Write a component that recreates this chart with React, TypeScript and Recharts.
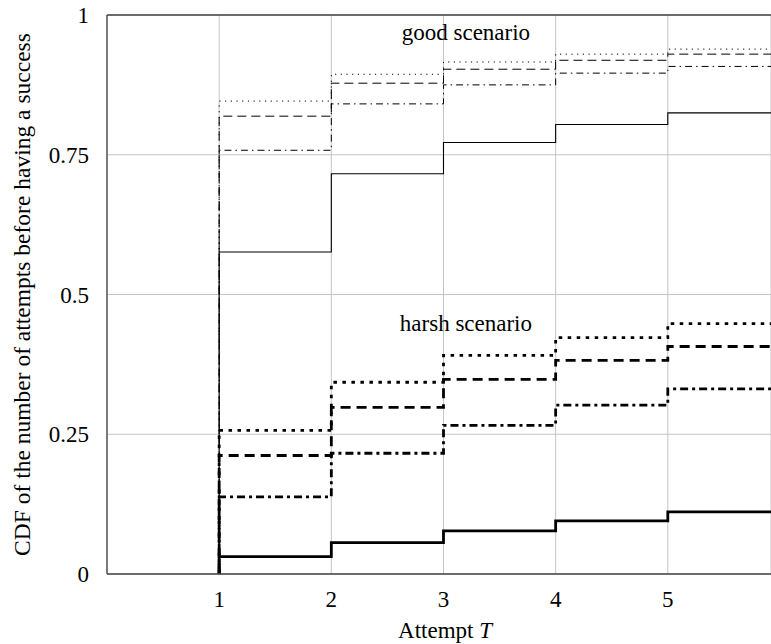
import { LineChart, Line, XAxis, YAxis, CartesianGrid, ReferenceLine, ReferenceDot } from 'recharts';

const attempts = [1, 2, 3, 4, 5];
const xTicks = [1, 2, 3, 4, 5];
const yTicks = [0, 0.25, 0.5, 0.75, 1];

// good scenario (thin lines)
const goodDotted = [0.846, 0.894, 0.916, 0.93, 0.939];
const goodDashed = [0.819, 0.878, 0.903, 0.919, 0.93];
const goodDashDot = [0.758, 0.841, 0.875, 0.896, 0.908];
const goodSolid = [0.576, 0.716, 0.772, 0.804, 0.825];

// harsh scenario (thick lines)
const harshDotted = [0.257, 0.343, 0.391, 0.423, 0.448];
const harshDashed = [0.212, 0.298, 0.348, 0.382, 0.407];
const harshDashDot = [0.138, 0.216, 0.266, 0.302, 0.331];
const harshSolid = [0.031, 0.056, 0.077, 0.095, 0.111];

const annotations = [
  { x: 3.2, y: 0.97, text: 'good  scenario' },
  { x: 3.2, y: 0.449, text: 'harsh  scenario' },
];

const series = [
  { key: 'goodDotted', values: goodDotted, width: 1, dash: '1.2 4.5' },
  { key: 'goodDashed', values: goodDashed, width: 1, dash: '9 5' },
  { key: 'goodDashDot', values: goodDashDot, width: 1, dash: '7 4 1.5 4' },
  { key: 'goodSolid', values: goodSolid, width: 1.1, dash: undefined },
  { key: 'harshDotted', values: harshDotted, width: 2.8, dash: '3.5 5.5' },
  { key: 'harshDashed', values: harshDashed, width: 2.8, dash: '10 6' },
  { key: 'harshDashDot', values: harshDashDot, width: 2.8, dash: '8 4 3 4' },
  { key: 'harshSolid', values: harshSolid, width: 2.8, dash: undefined },
];

// step curves start at 0 on T=1, and the last step runs past the right edge
const data: Record<string, number>[] = [];
const start: Record<string, number> = { t: attempts[0] };
series.forEach((s) => (start[s.key] = 0));
data.push(start);
attempts.forEach((t, i) => {
  const row: Record<string, number> = { t };
  series.forEach((s) => (row[s.key] = s.values[i]));
  data.push(row);
});
const tail: Record<string, number> = { t: 6 };
series.forEach((s) => (tail[s.key] = s.values[s.values.length - 1]));
data.push(tail);

const font = "'Liberation Serif', 'Times New Roman', serif";

export default function App() {
  return (
    <div style={{ position: 'absolute', left: 0, top: 0, fontFamily: font }}>
      <LineChart width={771} height={644} data={data} margin={{ top: 15, right: 0, left: 0, bottom: 0 }}>
        <CartesianGrid stroke="#c4c4c4" strokeWidth={1} />
        <XAxis
          dataKey="t"
          type="number"
          domain={[0, 5.92]}
          allowDataOverflow
          ticks={xTicks}
          height={70}
          tickLine={false}
          tickMargin={11}
          axisLine={{ stroke: '#444', strokeWidth: 1.3 }}
          tick={{ fill: '#000', fontSize: 23, fontFamily: font }}
          label={({ viewBox }: any) => (
            <text
              x={viewBox.x + viewBox.width / 2 + 6}
              y={viewBox.y + 64}
              textAnchor="middle"
              fontSize={23}
              fontFamily={font}
              fill="#000"
            >
              Attempt <tspan fontStyle="italic">T</tspan>
            </text>
          )}
        />
        <YAxis
          type="number"
          domain={[0, 1]}
          ticks={yTicks}
          width={107}
          tickLine={false}
          tickMargin={12}
          axisLine={{ stroke: '#444', strokeWidth: 1.3 }}
          tick={{ fill: '#000', fontSize: 23, fontFamily: font }}
          label={({ viewBox }: any) => (
            <text
              x={22}
              y={viewBox.y + viewBox.height / 2}
              transform={`rotate(-90, 22, ${viewBox.y + viewBox.height / 2})`}
              textAnchor="middle"
              dominantBaseline="central"
              fontSize={23.5}
              fontFamily={font}
              fill="#000"
            >
              CDF of the number of attempts before having a success
            </text>
          )}
        />
        <ReferenceLine y={1} stroke="#444" strokeWidth={1.3} />
        {series.map((s) => (
          <Line
            key={s.key}
            type="stepAfter"
            dataKey={s.key}
            stroke="#000"
            strokeWidth={s.width}
            strokeDasharray={s.dash}
            dot={false}
            activeDot={false}
            isAnimationActive={false}
          />
        ))}
        {annotations.map((a) => (
          <ReferenceDot
            key={a.text}
            x={a.x}
            y={a.y}
            r={0}
            fill="none"
            stroke="none"
            label={{ value: a.text, position: 'center', fontSize: 23, fontFamily: font, fill: '#000' }}
          />
        ))}
      </LineChart>
    </div>
  );
}
